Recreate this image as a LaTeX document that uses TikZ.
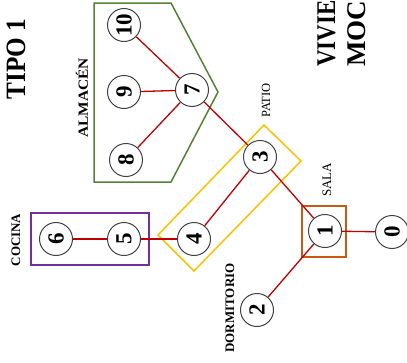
\documentclass[tikz,border=0pt]{standalone}
\usepackage{fontspec}
\setmainfont{Liberation Serif}
\definecolor{edgered}{HTML}{C00000}
\definecolor{boxgreen}{HTML}{548235}
\definecolor{boxpurple}{HTML}{7030A0}
\definecolor{boxorange}{HTML}{C55A11}
\definecolor{boxyellow}{HTML}{FFC000}
\begin{document}
\begin{tikzpicture}[x=1pt,y=-1pt,
  vtx/.style={circle, draw=black!75, line width=1.0pt, minimum size=33pt, inner sep=0pt,
    fill=white, rotate=90, font=\fontsize{23}{23}\selectfont\bfseries},
  edge/.style={draw=edgered, line width=1.3pt},
  zone/.style={line width=1.5pt},
  lbl/.style={rotate=90, inner sep=0pt},
  title/.style={rotate=90, inner sep=0pt, anchor=base west, font=\fontsize{27}{27}\selectfont\bfseries}]
\useasboundingbox (0,0) rectangle (407,362);
\clip (0,0) rectangle (407,362);
% zones
\draw[zone, draw=boxgreen] (94,3) -- (171,3) -- (218,92) -- (171,182) -- (94,182) -- cycle;
\draw[zone, draw=boxyellow] (264,125) -- (301,161) -- (194,271) -- (158,235) -- cycle;
\draw[zone, draw=boxpurple] (31,213) rectangle (149,265);
\draw[zone, draw=boxorange] (302,206) rectangle (346,257);
% nodes
\node[vtx] (n10) at (124,25) {10};
\node[vtx] (n9) at (124,92) {9};
\node[vtx] (n8) at (126,160) {8};
\node[vtx] (n7) at (192,90) {7};
\node[vtx] (n3) at (260,157) {3};
\node[vtx] (n4) at (194,239) {4};
\node[vtx] (n5) at (124,239) {5};
\node[vtx] (n6) at (56,239) {6};
\node[vtx] (n1) at (325,231) {1};
\node[vtx] (n0) at (392,232) {0};
\node[vtx] (n2) at (257,310) {2};
% edges
\draw[edge] (n10) -- (n7);
\draw[edge] (n9) -- (n7);
\draw[edge] (n8) -- (n7);
\draw[edge] (n7) -- (n3);
\draw[edge] (n3) -- (n1);
\draw[edge] (n3) -- (n4);
\draw[edge] (n4) -- (n5);
\draw[edge] (n5) -- (n6);
\draw[edge] (n1) -- (n0);
\draw[edge] (n1) -- (n2);
% labels
\node[lbl, font=\fontsize{28}{28}\selectfont\bfseries] (tipo) at (16,59) {\scalebox{0.9}[1]{TIPO 1}};
\node[title] (t1) at (335,67) {\scalebox{0.85}[1]{VIVIENDA}};
\node[title] (t2) at (365,67) {MOCHICA};
\node[lbl, font=\fontsize{14}{14}\selectfont\bfseries] (alm) at (82,98) {\scalebox{1.1}[1]{ALMACÉN}};
\node[lbl, font=\fontsize{13}{13}\selectfont\bfseries] (coc) at (16,240) {COCINA};
\node[lbl, font=\fontsize{13}{13}\selectfont\bfseries] (dor) at (230,308) {DORMITORIO};
\node[lbl, anchor=base west, font=\fontsize{13}{13}\selectfont] (sal) at (331,197) {SALA};
\node[lbl, anchor=base west, font=\fontsize{12.5}{12.5}\selectfont] (pat) at (270,118) {PATIO};
\end{tikzpicture}
\end{document}
